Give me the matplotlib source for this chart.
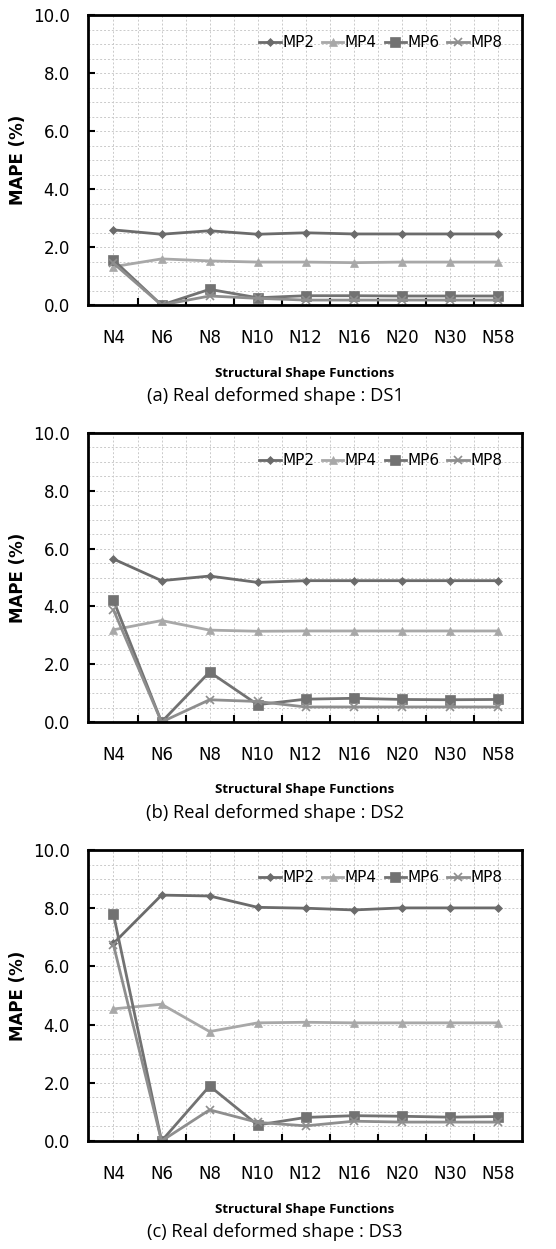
import matplotlib.pyplot as plt
import numpy as np

categories = ["N4", "N6", "N8", "N10", "N12", "N16", "N20", "N30", "N58"]
series_names = ["MP2", "MP4", "MP6", "MP8"]

# panel (a) DS1
ds1_mp2 = [2.59, 2.44, 2.56, 2.44, 2.49, 2.45, 2.45, 2.45, 2.45]
ds1_mp4 = [1.32, 1.59, 1.52, 1.48, 1.48, 1.46, 1.48, 1.48, 1.48]
ds1_mp6 = [1.55, 0.0, 0.54, 0.25, 0.32, 0.32, 0.31, 0.31, 0.31]
ds1_mp8 = [1.44, 0.0, 0.31, 0.23, 0.17, 0.17, 0.17, 0.17, 0.17]

# panel (b) DS2
ds2_mp2 = [5.64, 4.89, 5.05, 4.83, 4.89, 4.89, 4.89, 4.89, 4.89]
ds2_mp4 = [3.19, 3.51, 3.18, 3.14, 3.15, 3.15, 3.15, 3.15, 3.15]
ds2_mp6 = [4.21, 0.0, 1.73, 0.60, 0.79, 0.82, 0.78, 0.77, 0.78]
ds2_mp8 = [3.88, 0.0, 0.77, 0.71, 0.52, 0.52, 0.52, 0.52, 0.52]

# panel (c) DS3
ds3_mp2 = [6.79, 8.45, 8.42, 8.03, 8.00, 7.94, 8.01, 8.01, 8.01]
ds3_mp4 = [4.54, 4.70, 3.76, 4.06, 4.08, 4.06, 4.06, 4.06, 4.06]
ds3_mp6 = [7.79, 0.0, 1.89, 0.55, 0.81, 0.87, 0.85, 0.82, 0.84]
ds3_mp8 = [6.74, 0.0, 1.07, 0.64, 0.52, 0.68, 0.65, 0.65, 0.65]

captions = ["(a) Real deformed shape : DS1",
            "(b) Real deformed shape : DS2",
            "(c) Real deformed shape : DS3"]

panels = [
    [ds1_mp2, ds1_mp4, ds1_mp6, ds1_mp8],
    [ds2_mp2, ds2_mp4, ds2_mp6, ds2_mp8],
    [ds3_mp2, ds3_mp4, ds3_mp6, ds3_mp8],
]

colors = ["#6b6b6b", "#a8a8a8", "#727272", "#8e8e8e"]
markers = ["D", "^", "s", "x"]
msizes = [4.5, 6, 7, 6]

W, H = 556, 1249
fig = plt.figure(figsize=(W / 100, H / 100), dpi=100)

# pixel boxes (top, bottom) of each plot area
boxes = [(15, 305), (433, 722), (850, 1141)]
left_px, right_px = 88, 522

x = np.arange(len(categories))

for (top, bot), data, cap in zip(boxes, panels, captions):
    ax = fig.add_axes([left_px / W, 1 - bot / H, (right_px - left_px) / W, (bot - top) / H])
    for vals, name, c, m, ms in zip(data, series_names, colors, markers, msizes):
        ax.plot(x, vals, color=c, marker=m, markersize=ms, linewidth=2,
                markeredgewidth=1.2 if m == "x" else 0.5, label=name)

    ax.set_xlim(-0.53, len(categories) - 0.5)
    ax.set_ylim(0, 10)

    ax.set_xticks(x)
    ax.set_xticklabels(categories, fontfamily="DejaVu Sans", fontsize=12)
    ax.set_xticks(np.arange(0.5, len(categories) - 1, 1.0), minor=True)
    ax.tick_params(axis="x", which="major", length=0, pad=17)
    ax.tick_params(axis="x", which="minor", direction="in", length=5, width=1.5)

    ax.set_yticks(np.arange(0, 10.1, 2))
    ax.set_yticklabels([f"{v:.1f}" for v in np.arange(0, 10.1, 2)],
                       fontfamily="DejaVu Sans", fontsize=12)
    ax.set_yticks(np.arange(0, 10.1, 0.5), minor=True)
    ax.tick_params(axis="y", which="major", direction="in", length=5, width=1.5, pad=13)
    ax.tick_params(axis="y", which="minor", length=0)

    # dashed grid every half category and every 0.5 on y
    for gx in np.arange(0, len(categories) - 0.5, 0.5):
        ax.axvline(gx, color="#cacaca", linestyle=(0, (2, 2)), linewidth=0.7, zorder=0)
    for gy in np.arange(0.5, 10, 0.5):
        ax.axhline(gy, color="#cacaca", linestyle=(0, (2, 2)), linewidth=0.7, zorder=0)

    for sp in ax.spines.values():
        sp.set_linewidth(2)
        sp.set_color("black")

    ax.legend(loc="upper right", ncol=4, frameon=False,
              prop={"family": "DejaVu Sans", "size": 11},
              handlelength=1.4, handletextpad=0.1, columnspacing=0.5,
              borderaxespad=1.0, borderpad=0.3)

    fig.text(18 / W, 1 - (top + bot) / 2 / H, "MAPE (%)", rotation=90,
             ha="center", va="center", fontsize=12, fontweight="bold",
             fontfamily="DejaVu Sans")
    fig.text((left_px + right_px) / 2 / W, 1 - (bot + 68) / H,
             "Structural Shape Functions", ha="center", va="center",
             fontsize=9.5, fontweight="bold", fontfamily="Open Sans")
    fig.text(0.495, 1 - (bot + 91) / H, cap, ha="center", va="center",
             fontsize=13.2, fontfamily="Open Sans")

fig.savefig("out.png", dpi=100)
